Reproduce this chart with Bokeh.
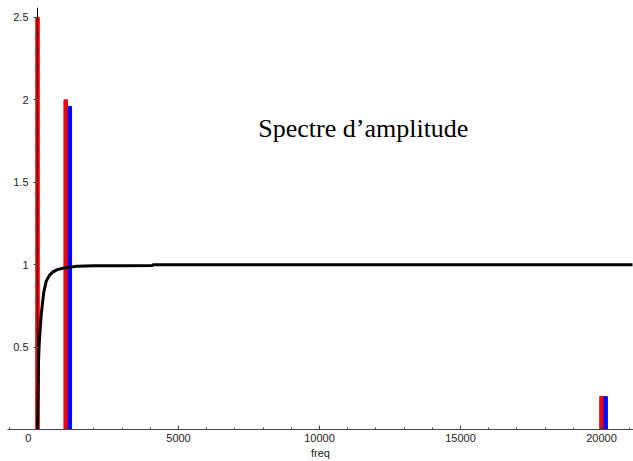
from bokeh.plotting import figure
from bokeh.models import ColumnDataSource, FixedTicker, Label
from bokeh.transform import dodge
from bokeh.embed import file_html
from bokeh.resources import INLINE

# Input spectrum (red) and output spectrum (blue)
freq_in = [0, 1000, 20000]
amp_in = [2.5, 2.0, 0.2]
freq_out = [1000, 20000]
amp_out = [1.96, 0.2]

# Gain of the high-pass filter (black curve)
gain_f = [0, 15, 35, 60, 95, 130, 165, 220, 310, 420, 540, 700, 900, 1150, 1400, 2000, 3000, 4080, 4100, 21100]
gain_v = [0.0, 0.17, 0.41, 0.52, 0.61, 0.69, 0.75, 0.83, 0.90, 0.935, 0.955, 0.97, 0.978, 0.985, 0.99, 0.993, 0.994, 0.995, 1.0, 1.0]

x_ticks = [0, 5000, 10000, 15000, 20000]
x_minor = [v for v in range(-1000, 21001, 1000)]
y_ticks = [0, 0.5, 1, 1.5, 2, 2.5]
y_minor = [round(0.1 * i, 1) for i in range(0, 26)]

p = figure(width=633, height=461, output_backend="svg", toolbar_location=None,
           x_range=(-1064, 21135), y_range=(0, 2.56),
           min_border_left=7, min_border_right=0, min_border_top=7, min_border_bottom=0)
p.outline_line_color = None
p.grid.visible = False
p.background_fill_color = "white"

src_in = ColumnDataSource(dict(f=freq_in, a=amp_in))
src_out = ColumnDataSource(dict(f=freq_out, a=amp_out))
p.vbar(x="f", top="a", width=125, source=src_in, color="#ff0000")
p.vbar(x=dodge("f", 145), top="a", width=125, source=src_out, color="#0000ff")
p.line(gain_f, gain_v, line_color="black", line_width=3)

p.add_layout(Label(x=7830, y=1.735, text="Spectre d\u2019amplitude", text_font="Liberation Serif",
                   text_font_size="26px", text_color="black"))

p.yaxis.fixed_location = 0
for ax in (p.xaxis, p.yaxis):
    ax.axis_line_color = "#444444"
    ax.major_tick_line_color = "#444444"
    ax.minor_tick_line_color = "#444444"
    ax.major_label_text_font = "Liberation Sans"
    ax.major_label_text_font_size = "11px"
    ax.major_label_text_color = "#222222"

p.xaxis.ticker = FixedTicker(ticks=x_ticks, minor_ticks=x_minor)
p.yaxis.ticker = FixedTicker(ticks=y_ticks, minor_ticks=y_minor)
p.yaxis.major_label_overrides = {0: ""}
p.xaxis.major_label_overrides = {0: "0      "}
p.xaxis.major_tick_in = 4
p.xaxis.major_tick_out = 0
p.xaxis.minor_tick_in = 2
p.xaxis.minor_tick_out = 0
p.xaxis.major_label_standoff = 2
p.xaxis.axis_label = "freq"
p.xaxis.axis_label_text_font = "Liberation Sans"
p.xaxis.axis_label_text_font_size = "11px"
p.xaxis.axis_label_text_font_style = "normal"
p.xaxis.axis_label_text_color = "#222222"
p.xaxis.axis_label_standoff = 0
p.yaxis.major_tick_out = 4
p.yaxis.major_tick_in = 0
p.yaxis.minor_tick_out = 2
p.yaxis.minor_tick_in = 0
p.yaxis.axis_line_color = "black"

open("out.html", "w").write(file_html(p, INLINE))
